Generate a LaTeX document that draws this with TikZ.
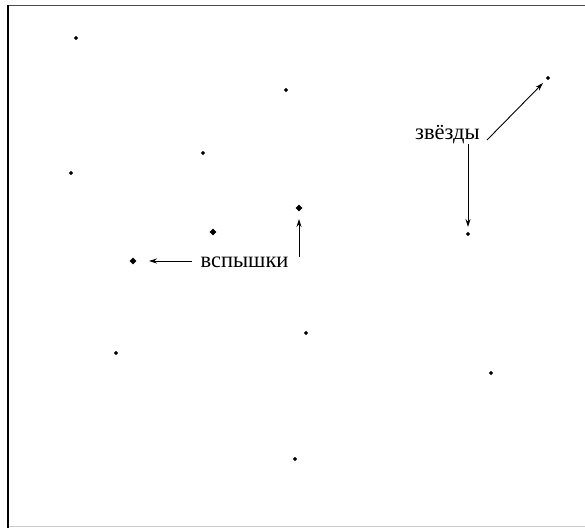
\documentclass[tikz,border=0pt]{standalone}
\usepackage{fontspec}
\setmainfont{Liberation Serif}
\usetikzlibrary{shapes.geometric,arrows.meta}
\begin{document}
\begin{tikzpicture}[x=1pt,y=-1pt,
  star/.style={diamond,fill=black,inner sep=0pt,minimum size=4.5pt},
  flash/.style={diamond,fill=black,inner sep=0pt,minimum size=7pt},
  lbl/.style={font=\fontsize{22.5}{22.5}\selectfont,inner sep=0pt,anchor=base},
  arr/.style={-{Stealth[length=8pt,width=5pt]},line width=0.9pt}]
\useasboundingbox (0,0) rectangle (585,528);
\fill[white] (0,0) rectangle (585,528);
% frame
\draw[line width=1.5pt,black!70] (7,5.5) -- (585,5.5);
\draw[line width=2pt,black] (7.5,4.8) -- (7.5,528);
\draw[line width=1pt,black!20] (8.5,526) -- (585,526);
% stars
\node[star] (s1) at (76,38) {};
\node[star] (s2) at (286,90) {};
\node[star] (s3) at (203,153) {};
\node[star] (s4) at (71,173) {};
\node[star] (s5) at (548,78) {};
\node[star] (s6) at (468,234) {};
\node[star] (s7) at (306,333) {};
\node[star] (s8) at (116,353) {};
\node[star] (s9) at (491,373) {};
\node[star] (s10) at (295,459) {};
% flashes
\node[flash] (f1) at (299,208) {};
\node[flash] (f2) at (213,232) {};
\node[flash] (f3) at (133,261) {};
% labels
\node[lbl] (vsp) at (244.5,267) {вспышки};
\node[lbl] (zv) at (447.5,139) {звёзды};
% connectors
\coordinate (a1) at (192,261);
\coordinate (a2) at (299,257);
\coordinate (b1) at (468,144);
\coordinate (b2) at (487,140);
\draw[arr] (a1) -- ([xshift=16pt]f3.center);
\draw[arr] (a2) -- ([yshift=-11pt]f1.center);
\draw[arr] (b1) -- ([yshift=7pt]s6.center);
\draw[arr] (b2) -- ([xshift=-5pt,yshift=-5pt]s5.center);
\end{tikzpicture}
\end{document}
